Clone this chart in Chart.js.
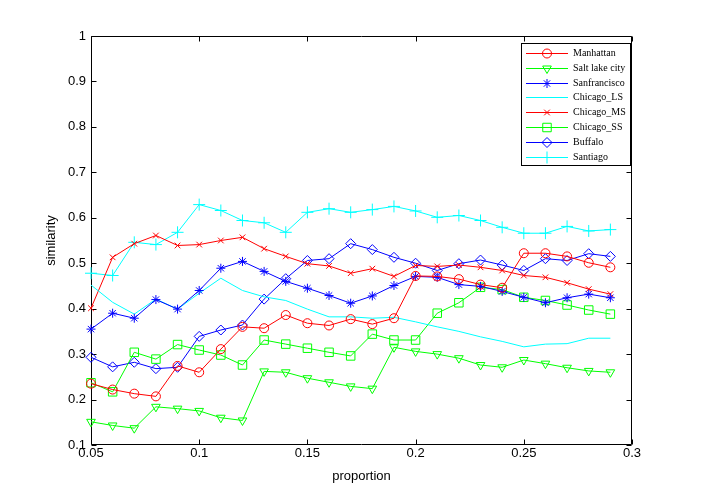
<!DOCTYPE html>
<html>
<head>
<meta charset="utf-8">
<script src="https://cdn.jsdelivr.net/npm/chart.js@4.4.1/dist/chart.umd.min.js"></script>
<style>
  html, body { margin: 0; padding: 0; background: #ffffff; }
  #wrap { width: 701px; height: 500px; }
</style>
</head>
<body>
<div id="wrap"><canvas id="c" width="701" height="500"></canvas></div>
<script>
// ---- data ----
const proportion = [0.05,0.06,0.07,0.08,0.09,0.10,0.11,0.12,0.13,0.14,0.15,0.16,0.17,0.18,0.19,0.20,0.21,0.22,0.23,0.24,0.25,0.26,0.27,0.28,0.29];
const manhattan    = [0.235,0.222,0.213,0.207,0.274,0.260,0.311,0.360,0.357,0.386,0.368,0.363,0.377,0.366,0.379,0.472,0.471,0.465,0.453,0.446,0.522,0.522,0.515,0.501,0.491];
const saltLakeCity = [0.151,0.143,0.137,0.184,0.180,0.175,0.160,0.154,0.262,0.260,0.247,0.238,0.229,0.224,0.315,0.306,0.300,0.291,0.276,0.271,0.287,0.279,0.270,0.263,0.260];
const sanFrancisco = [0.355,0.390,0.379,0.420,0.399,0.440,0.489,0.504,0.482,0.460,0.445,0.429,0.412,0.428,0.451,0.471,0.469,0.453,0.449,0.438,0.425,0.413,0.424,0.432,0.424];
const chicagoLS    = [0.452,0.414,0.388,0.421,0.399,0.434,0.467,0.440,0.426,0.418,0.399,0.382,0.382,0.379,0.381,0.371,0.360,0.350,0.338,0.328,0.316,0.322,0.323,0.335,0.335];
const chicagoMS    = [0.401,0.513,0.543,0.561,0.539,0.541,0.550,0.557,0.532,0.515,0.499,0.494,0.478,0.488,0.471,0.495,0.493,0.496,0.491,0.484,0.473,0.469,0.457,0.443,0.432];
const chicagoSS    = [0.237,0.217,0.304,0.289,0.321,0.309,0.298,0.276,0.331,0.322,0.313,0.304,0.296,0.344,0.331,0.331,0.390,0.413,0.447,0.442,0.425,0.418,0.408,0.397,0.388];
const buffalo      = [0.293,0.272,0.282,0.268,0.271,0.339,0.353,0.364,0.421,0.466,0.506,0.510,0.543,0.530,0.513,0.500,0.484,0.499,0.507,0.496,0.484,0.510,0.506,0.521,0.515];
const santiago     = [0.478,0.473,0.546,0.541,0.568,0.629,0.616,0.594,0.589,0.568,0.612,0.620,0.612,0.618,0.625,0.615,0.601,0.605,0.594,0.579,0.566,0.566,0.581,0.571,0.574];
const seriesNames  = ['Manhattan','Salt lake city','Sanfrancisco','Chicago_LS','Chicago_MS','Chicago_SS','Buffalo','Santiago'];
const xTicks = [0.05,0.1,0.15,0.2,0.25,0.3];
const yTicks = [0.1,0.2,0.3,0.4,0.5,0.6,0.7,0.8,0.9,1];

// ---- styles ----
const seriesValues = [manhattan, saltLakeCity, sanFrancisco, chicagoLS, chicagoMS, chicagoSS, buffalo, santiago];
const styles = [
  {color:'#ff0000', pointStyle:'circle',   radius:4.5, rotation:0},
  {color:'#00ff00', pointStyle:'triangle', radius:5,   rotation:180},
  {color:'#0000ff', pointStyle:'star',     radius:4.5, rotation:0},
  {color:'#00ffff', pointStyle:'circle',   radius:0,   rotation:0},
  {color:'#ff0000', pointStyle:'crossRot', radius:4,   rotation:0},
  {color:'#00ff00', pointStyle:'rect',     radius:6,   rotation:0},
  {color:'#0000ff', pointStyle:'rectRot',  radius:5,   rotation:0},
  {color:'#00ffff', pointStyle:'cross',    radius:6,   rotation:0}
];

const datasets = seriesNames.map((name, i) => ({
  label: name,
  data: proportion.map((x, j) => ({x: x, y: seriesValues[i][j]})),
  borderColor: styles[i].color,
  backgroundColor: 'rgba(0,0,0,0)',
  borderWidth: 1,
  tension: 0,
  fill: false,
  clip: false,
  pointStyle: styles[i].pointStyle,
  pointRadius: styles[i].radius,
  pointRotation: styles[i].rotation,
  pointBorderColor: styles[i].color,
  pointBackgroundColor: 'rgba(0,0,0,0)',
  pointBorderWidth: 1,
  pointHoverRadius: styles[i].radius
}));

const fmt = v => String(Math.round(v * 100) / 100);
const TICK_LEN = 5;

// MATLAB-like axes box with inward ticks on all four sides
const axesBox = {
  id: 'axesBox',
  beforeDatasetsDraw(chart) {
    const {ctx, chartArea: a, scales} = chart;
    ctx.save();
    ctx.strokeStyle = '#000000';
    ctx.lineWidth = 1;
    const L = Math.round(a.left) + 0.5, R = Math.round(a.right) - 0.5;
    const T = Math.round(a.top) + 0.5, B = Math.round(a.bottom) - 0.5;
    ctx.beginPath();
    ctx.rect(L, T, R - L, B - T);
    xTicks.forEach(v => {
      const px = Math.round(scales.x.getPixelForValue(v)) + 0.5;
      ctx.moveTo(px, B); ctx.lineTo(px, B - TICK_LEN);
      ctx.moveTo(px, T); ctx.lineTo(px, T + TICK_LEN);
    });
    yTicks.forEach(v => {
      const py = Math.round(scales.y.getPixelForValue(v)) + 0.5;
      ctx.moveTo(L, py); ctx.lineTo(L + TICK_LEN, py);
      ctx.moveTo(R, py); ctx.lineTo(R - TICK_LEN, py);
    });
    ctx.stroke();
    ctx.restore();
  }
};

function fallbackPoint(ctx, o, x, y) {
  const r = o.radius;
  ctx.beginPath();
  ctx.arc(x, y, r, 0, Math.PI * 2);
  ctx.stroke();
}

// Legend box inside the plot, top-right (MATLAB style)
const matlabLegend = {
  id: 'matlabLegend',
  afterDraw(chart) {
    const {ctx} = chart;
    const drawPoint = (Chart.helpers && Chart.helpers.drawPoint) ? Chart.helpers.drawPoint : fallbackPoint;
    const bx = 521.5, by = 43.5, bw = 109, bh = 122;
    ctx.save();
    ctx.fillStyle = '#ffffff';
    ctx.fillRect(bx, by, bw, bh);
    ctx.strokeStyle = '#000000';
    ctx.lineWidth = 1;
    ctx.strokeRect(bx, by, bw, bh);
    ctx.font = '10px "Liberation Serif", "Times New Roman", serif';
    ctx.textBaseline = 'middle';
    ctx.textAlign = 'left';
    chart.data.datasets.forEach((ds, i) => {
      const y = Math.round(53 + i * 14.8) + 0.5;
      ctx.strokeStyle = ds.borderColor;
      ctx.lineWidth = 1;
      ctx.beginPath();
      ctx.moveTo(526, y); ctx.lineTo(568, y);
      ctx.stroke();
      if (ds.pointRadius > 0) {
        ctx.strokeStyle = ds.borderColor;
        ctx.fillStyle = 'rgba(0,0,0,0)';
        drawPoint(ctx, {pointStyle: ds.pointStyle, radius: ds.pointRadius, rotation: ds.pointRotation, borderWidth: 1}, 547, y);
      }
      ctx.fillStyle = '#000000';
      ctx.fillText(ds.label, 573, y);
    });
    ctx.restore();
  }
};

const tickFont = {family: '"Liberation Sans", Arial, sans-serif', size: 13};

new Chart(document.getElementById('c'), {
  type: 'line',
  data: {datasets: datasets},
  options: {
    responsive: false,
    devicePixelRatio: 1,
    animation: false,
    events: [],
    layout: {padding: {left: 0, right: 69, top: 36, bottom: 0}},
    plugins: {legend: {display: false}, tooltip: {enabled: false}},
    scales: {
      x: {
        type: 'linear',
        min: 0.05, max: 0.3,
        grid: {display: false, drawTicks: false},
        border: {display: false},
        afterBuildTicks: s => { s.ticks = xTicks.map(v => ({value: v})); },
        afterFit: s => { s.height = 55; },
        ticks: {color: '#000000', font: tickFont, padding: 1, maxRotation: 0, autoSkip: false, callback: v => fmt(v)},
        title: {display: true, text: 'proportion', color: '#000000', font: tickFont, padding: {top: 0, bottom: 16}}
      },
      y: {
        type: 'linear',
        min: 0.1, max: 1,
        grid: {display: false, drawTicks: false},
        border: {display: false},
        afterBuildTicks: s => { s.ticks = yTicks.map(v => ({value: v})); },
        afterFit: s => { s.width = 91; },
        ticks: {color: '#000000', font: tickFont, padding: 5, autoSkip: false, callback: v => fmt(v)},
        title: {display: true, text: 'similarity', color: '#000000', font: tickFont, padding: {top: 44, bottom: 0}}
      }
    }
  },
  plugins: [axesBox, matlabLegend]
});
</script>
</body>
</html>
